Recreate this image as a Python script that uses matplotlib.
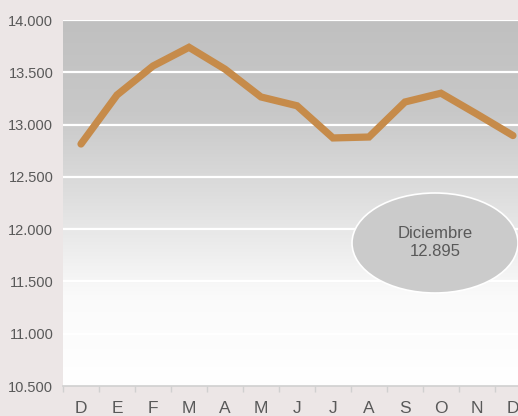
import numpy as np
import matplotlib
matplotlib.use("Agg")
import matplotlib.pyplot as plt
from matplotlib.patches import Ellipse

meses = ["D", "E", "F", "M", "A", "M", "J", "J", "A", "S", "O", "N", "D"]
valores = [12814, 13283, 13560, 13739, 13530, 13264, 13180, 12872, 12881, 13216, 13300, 13100, 12895]
y_ticks = [10500, 11000, 11500, 12000, 12500, 13000, 13500, 14000]
etiqueta = "Diciembre\n12.895"

fondo = "#ECE6E6"
texto = "#595959"

plt.rcParams['font.family'] = ['Liberation Sans', 'DejaVu Sans']

fig = plt.figure(figsize=(5.18, 4.16), dpi=100, facecolor=fondo)
ax = fig.add_axes([63/518, 30/416, 455/518, 366/416])

# degradado gris -> blanco del area de trazado
grad = np.linspace(0, 1, 256).reshape(-1, 1)
cmap = matplotlib.colors.LinearSegmentedColormap.from_list("g", ["#FFFFFF", "#FAFAFA", "#E0E0E0", "#C8C8C8", "#C0C0C0"], N=256)
ax.imshow(grad, extent=[0, 1, 0, 1], transform=ax.transAxes, cmap=cmap,
          aspect="auto", origin="lower", zorder=0)

for v in y_ticks[1:]:
    ax.axhline(v, color="white", lw=1.6, zorder=1)

ax.plot(range(len(meses)), valores, color="#C68B4A", lw=5.2,
        solid_joinstyle="miter", solid_capstyle="round", zorder=3)

ax.set_yticks(y_ticks)
ax.set_yticklabels([f"{v/1000:.3f}" for v in y_ticks], color=texto, fontsize=10.5)
ax.set_xticks(range(len(meses)))
ax.set_xticklabels(meses, color=texto, fontsize=12.5)
ax.set_xticks(np.arange(-0.5, 12.6, 1), minor=True)
ax.tick_params(axis="x", which="major", length=0, pad=11)
ax.tick_params(axis="x", which="minor", length=4, color="#D0D0D0", width=1)
ax.tick_params(axis="y", length=0, pad=7)
ax.set_ylim(10500, 14000)
ax.set_xlim(-0.5, 12.14)

for s in ["top", "right", "left"]:
    ax.spines[s].set_visible(False)
ax.spines["bottom"].set_color("#D0D0D0")
ax.spines["bottom"].set_linewidth(1.2)

# globo con el ultimo valor
el = Ellipse((435/518, 1 - 243/416), 166/518, 100/416, transform=fig.transFigure,
             facecolor="#CBCBCB", edgecolor="white", lw=1.2, zorder=4)
fig.patches.append(el)
fig.text(435/518, 1 - 242/416, etiqueta, ha="center", va="center",
         color=texto, fontsize=12, linespacing=1.25, zorder=5)

fig.savefig("out.png", dpi=100, facecolor=fondo)
